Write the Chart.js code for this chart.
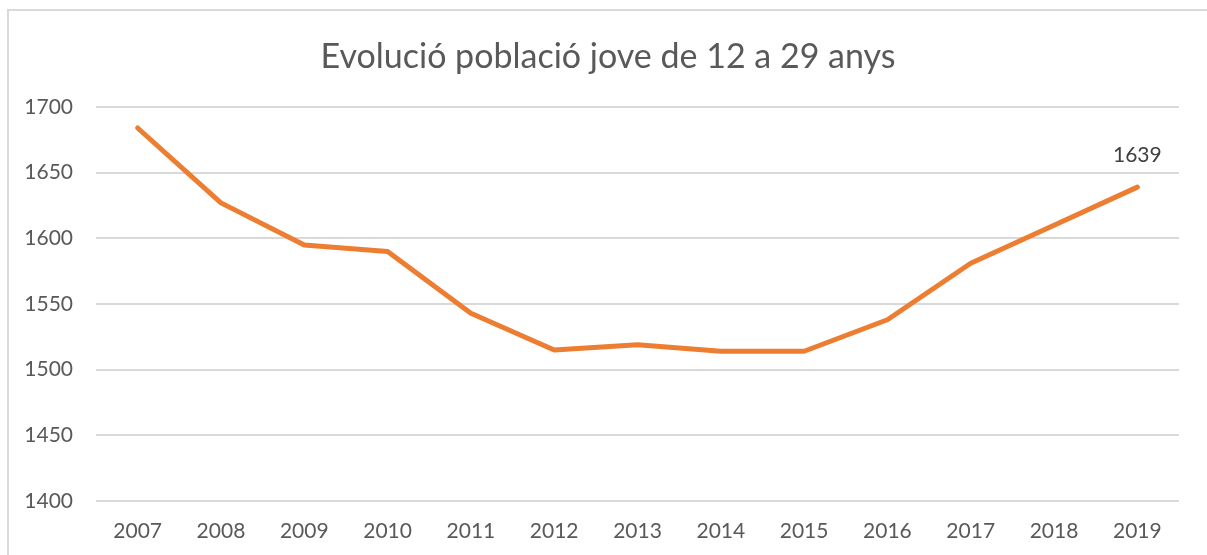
<!DOCTYPE html>
<html>
<head>
<meta charset="utf-8">
<script src="https://cdn.jsdelivr.net/npm/chart.js@4/dist/chart.umd.min.js"></script>
<style>
  html, body { margin: 0; padding: 0; background: #fff; overflow: hidden; }
  #frame {
    position: absolute; left: 7px; top: 9px; width: 1400px; height: 800px;
    border: 2px solid #d9d9d9; box-sizing: border-box;
  }
  #chart { position: absolute; left: 0; top: 0; }
</style>
</head>
<body>
<div id="frame"></div>
<canvas id="chart" width="1207" height="555"></canvas>
<script>
const years = ['2007', '2008', '2009', '2010', '2011', '2012', '2013', '2014', '2015', '2016', '2017', '2018', '2019'];
const population = [1684, 1627, 1595, 1590, 1543, 1515, 1519, 1514, 1514, 1538, 1581, 1610, 1639];
const yTicks = [1400, 1450, 1500, 1550, 1600, 1650, 1700];
const chartTitle = 'Evolució població jove de 12 a 29 anys';

const FONT = 'Lato, "Open Sans", sans-serif';

// title centred on the frame (Excel centres it on the whole chart, not the plot)
const frameTitle = {
  id: 'frameTitle',
  afterDraw(chart) {
    const ctx = chart.ctx;
    ctx.save();
    ctx.font = '34px ' + FONT;
    ctx.fillStyle = '#595959';
    ctx.textAlign = 'center';
    ctx.textBaseline = 'middle';
    ctx.fillText(chartTitle, 608, 57);
    ctx.restore();
  }
};

// label only on the last point, like the Excel original
const lastLabel = {
  id: 'lastLabel',
  afterDatasetsDraw(chart) {
    const meta = chart.getDatasetMeta(0);
    const i = population.length - 1;
    const pt = meta.data[i];
    const ctx = chart.ctx;
    ctx.save();
    ctx.font = '21px ' + FONT;
    ctx.fillStyle = '#404040';
    ctx.textAlign = 'center';
    ctx.textBaseline = 'middle';
    ctx.fillText(String(population[i]), pt.x, pt.y - 32);
    ctx.restore();
  }
};

new Chart(document.getElementById('chart'), {
  type: 'line',
  data: {
    labels: years,
    datasets: [{
      data: population,
      borderColor: '#ed7d31',
      borderWidth: 5,
      borderCapStyle: 'round',
      borderJoinStyle: 'round',
      pointRadius: 0,
      tension: 0
    }]
  },
  options: {
    responsive: false,
    animation: false,
    layout: { padding: { left: 0, right: 28, top: 107, bottom: 11 } },
    plugins: {
      legend: { display: false },
      tooltip: { enabled: false },
      title: { display: false }
    },
    scales: {
      x: {
        offset: true,
        afterFit(scale) { scale.height = 43; },
        grid: { display: false, drawTicks: false },
        border: { display: false },
        ticks: {
          color: '#595959',
          font: { family: FONT, size: 21 },
          padding: 18,
          maxRotation: 0
        }
      },
      y: {
        min: 1400,
        max: 1700,
        afterBuildTicks(scale) {
          scale.ticks = yTicks.map(v => ({ value: v }));
        },
        afterFit(scale) { scale.width = 96; },
        grid: { color: '#d9d9d9', lineWidth: 2, drawTicks: false },
        border: { display: false },
        ticks: {
          color: '#595959',
          font: { family: FONT, size: 21 },
          padding: 23,
          callback: v => String(v)
        }
      }
    }
  },
  plugins: [lastLabel, frameTitle]
});
</script>
</body>
</html>
